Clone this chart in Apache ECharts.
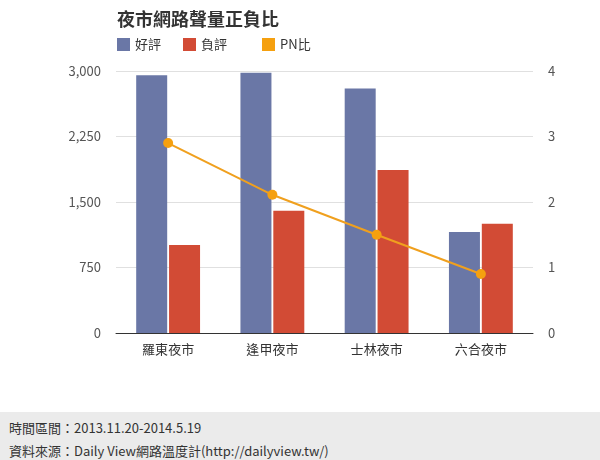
<!DOCTYPE html>
<html><head><meta charset="utf-8">
<script src="https://cdn.jsdelivr.net/npm/echarts@6/dist/echarts.min.js"></script>
<style>
html,body{margin:0;padding:0;background:#fff;}
#c{width:600px;height:412px;}
#foot{position:absolute;left:0;top:412px;width:600px;height:48px;background:#ebebeb;font-family:"Noto Sans CJK TC","Open Sans",sans-serif;font-size:13px;color:#333;}
#foot div{position:absolute;left:9px;}
</style></head>
<body>
<div id="c"></div>
<div id="foot"><div style="top:6px">時間區間：2013.11.20-2014.5.19</div><div style="top:29px">資料來源：Daily View網路溫度計(http://dailyview.tw/)</div></div>
<script>
const categories = ['羅東夜市','逢甲夜市','士林夜市','六合夜市'];
const positive = [2950, 2980, 2800, 1156];
const negative = [1008, 1400, 1866, 1252];
const pnRatio = [2.9, 2.11, 1.5, 0.9];
const leftTicks = {min:0, max:3000, interval:750};
const rightTicks = {min:0, max:4, interval:1};

const chart = echarts.init(document.getElementById('c'));
const font = '"Noto Sans CJK TC","Open Sans",sans-serif';
chart.setOption({
  animation:false,
  title:{text:'夜市網路聲量正負比', left:112, top:5, textStyle:{fontFamily:font, fontSize:18, fontWeight:'bold', color:'#333'}},
  legend:{left:112, top:33, itemWidth:13, itemHeight:13, itemGap:22,
    formatter: n => n === '負評' ? n + '\u3000' : n,
    textStyle:{fontFamily:font, fontSize:13, color:'#333'},
    data:[{name:'好評',icon:'rect'},{name:'負評',icon:'rect'},{name:'PN比',icon:'rect'}]},
  grid:{left:116, right:67, top:71, bottom:79},
  xAxis:{type:'category', data:categories, axisTick:{show:false}, axisLine:{lineStyle:{color:'#333'}},
    axisLabel:{fontFamily:font, fontSize:13, color:'#333', margin:10}},
  yAxis:[
    {type:'value', min:leftTicks.min, max:leftTicks.max, interval:leftTicks.interval,
     axisLabel:{fontFamily:font, fontSize:13, color:'#555', margin:15}, splitLine:{lineStyle:{color:'#e0e0e0'}}, axisLine:{show:false}, axisTick:{show:false}},
    {type:'value', min:rightTicks.min, max:rightTicks.max, interval:rightTicks.interval,
     axisLabel:{fontFamily:font, fontSize:13, color:'#555', margin:15}, splitLine:{show:false}, axisLine:{show:false}, axisTick:{show:false}}
  ],
  series:[
    {name:'好評', type:'bar', data:positive, barWidth:31, barGap:'6%', itemStyle:{color:'#6a77a6'}},
    {name:'負評', type:'bar', data:negative, barWidth:31, itemStyle:{color:'#d24b35'}},
    {name:'PN比', type:'line', yAxisIndex:1, data:pnRatio, symbol:'circle', symbolSize:10, lineStyle:{color:'#f0a01e', width:2}, itemStyle:{color:'#f5a00f'}}
  ]
});
</script>
</body></html>
